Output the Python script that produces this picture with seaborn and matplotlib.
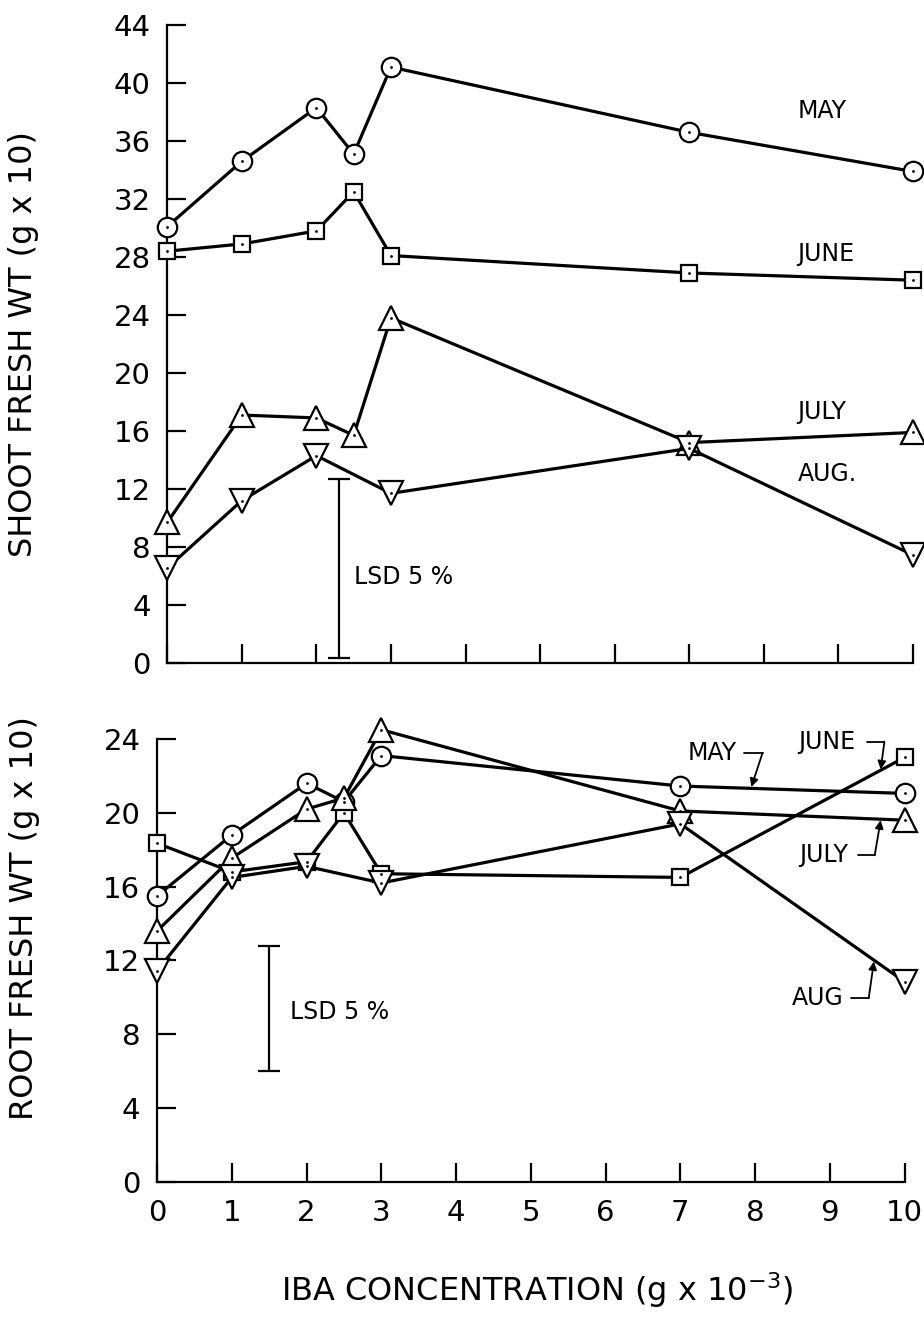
import numpy as np
import pandas as pd
import seaborn as sns
import matplotlib.pyplot as plt

# IBA concentration (g x 10^-3); August was not sampled at 2.5
iba = [0, 1, 2, 2.5, 3, 7, 10]
iba_aug = [0, 1, 2, 3, 7, 10]

# shoot fresh wt (g x 10)
shoot_may = [30.1, 34.6, 38.3, 35.1, 41.1, 36.6, 33.9]
shoot_june = [28.4, 28.9, 29.8, 32.5, 28.1, 26.9, 26.4]
shoot_july = [9.7, 17.1, 16.9, 15.7, 23.8, 15.2, 15.9]
shoot_aug = [6.55, 11.2, 14.3, 11.7, 14.8, 7.45]

# root fresh wt (g x 10)
root_may = [15.5, 18.8, 21.6, 20.6, 23.1, 21.45, 21.05]
root_june = [18.35, 16.8, 17.35, 20.0, 16.7, 16.5, 23.0]
root_july = [13.6, 17.55, 20.2, 20.8, 24.5, 20.1, 19.6]
root_aug = [11.45, 16.5, 17.1, 16.2, 19.4, 10.85]

# LSD 5% bars: x, low, high
lsd_shoot = [2.3, 0.35, 12.7]
lsd_root = [1.5, 6.0, 12.8]

shoot_yticks = list(range(0, 45, 4))
root_yticks = list(range(0, 25, 4))
xticks = list(range(0, 11))

sns.set_style('ticks')
plt.rcParams['font.family'] = ['DejaVu Sans']
plt.rcParams.update({'text.color': 'black', 'axes.labelcolor': 'black',
                     'xtick.color': 'black', 'ytick.color': 'black',
                     'axes.edgecolor': 'black'})

markers = {'MAY': ('o', 14), 'JUNE': ('s', 12), 'JULY': ('^', 17), 'AUG': ('v', 17)}


def draw(ax, xs, ys, month):
    m, ms = markers[month]
    sns.lineplot(x=xs, y=ys, ax=ax, color='black', linewidth=2.3, marker=m,
                 markersize=ms, markerfacecolor='white', markeredgecolor='black',
                 markeredgewidth=1.6, clip_on=False, zorder=3)
    sns.scatterplot(x=xs, y=ys, ax=ax, color='black', s=4, linewidth=0,
                    clip_on=False, zorder=4)


def lsd(ax, vals, label_xy):
    x, lo, hi = vals
    ax.errorbar([x], [(lo + hi) / 2], yerr=[(hi - lo) / 2], fmt='none',
                ecolor='black', elinewidth=1.6, capsize=8, capthick=1.6)
    ax.text(label_xy[0], label_xy[1], 'LSD 5 %', fontsize=17, va='center', ha='left')


def style(ax, yticks, ymax):
    ax.set_xlim(0, 10)
    ax.set_ylim(0, ymax)
    ax.set_xticks(xticks)
    ax.set_yticks(yticks)
    sns.despine(ax=ax)
    for s in ['left', 'bottom']:
        ax.spines[s].set_linewidth(1.6)
    ax.tick_params(direction='in', length=14, width=1.6, labelsize=21, pad=12)
    ax.set_xlabel('')


fig = plt.figure(figsize=(9.24, 13.17), dpi=100)
ax1 = fig.add_axes([0.181, 0.4966, 0.807, 0.4844])
ax2 = fig.add_axes([0.170, 0.1025, 0.809, 0.3364])

# top panel
draw(ax1, iba, shoot_may, 'MAY')
draw(ax1, iba, shoot_june, 'JUNE')
draw(ax1, iba, shoot_july, 'JULY')
draw(ax1, iba_aug, shoot_aug, 'AUG')
style(ax1, shoot_yticks, 44)
ax1.tick_params(labelbottom=False)
ax1.set_ylabel('SHOOT FRESH WT (g x 10)', fontsize=23)
ax1.yaxis.set_label_coords(-0.172, 0.5)
lsd(ax1, lsd_shoot, (2.5, 5.9))
for name, y in [('MAY', 38.1), ('JUNE', 28.2), ('JULY', 17.3), ('AUG.', 13.0)]:
    ax1.text(8.45, y, name, fontsize=17, va='center', ha='left')

# bottom panel
draw(ax2, iba, root_may, 'MAY')
draw(ax2, iba, root_june, 'JUNE')
draw(ax2, iba, root_july, 'JULY')
draw(ax2, iba_aug, root_aug, 'AUG')
style(ax2, root_yticks, 24)
ax2.set_ylabel('ROOT FRESH WT (g x 10)', fontsize=23)
ax2.yaxis.set_label_coords(-0.156, 0.596)
ax2.set_xlabel(r'IBA CONCENTRATION (g x 10$^{-3}$)', fontsize=23)
ax2.xaxis.set_label_coords(0.508, -0.20)
lsd(ax2, lsd_root, (1.78, 9.2))

# labels with bent leaders
leaders = [
    ('MAY', (7.42, 23.25), [(7.85, 23.25), (8.1, 23.25)], (7.95, 21.4)),
    ('JUNE', (8.96, 23.85), [(9.5, 23.85), (9.73, 23.85)], (9.68, 22.35)),
    ('JULY', (8.92, 17.7), [(9.38, 17.7), (9.6, 17.7)], (9.68, 19.6)),
    ('AUG', (8.84, 9.97), [(9.28, 9.97), (9.52, 9.97)], (9.59, 11.95)),
]
for name, txy, pts, tip in leaders:
    ax2.text(txy[0], txy[1], name, fontsize=17, va='center', ha='center')
    px, py = zip(*pts)
    ax2.plot(px, py, color='black', lw=1.3)
    ax2.annotate('', xy=tip, xytext=pts[-1],
                 arrowprops=dict(arrowstyle='-|>', lw=1.3, color='black',
                                 mutation_scale=12, shrinkA=0, shrinkB=0))

fig.savefig('out.png', dpi=100, facecolor='white')
